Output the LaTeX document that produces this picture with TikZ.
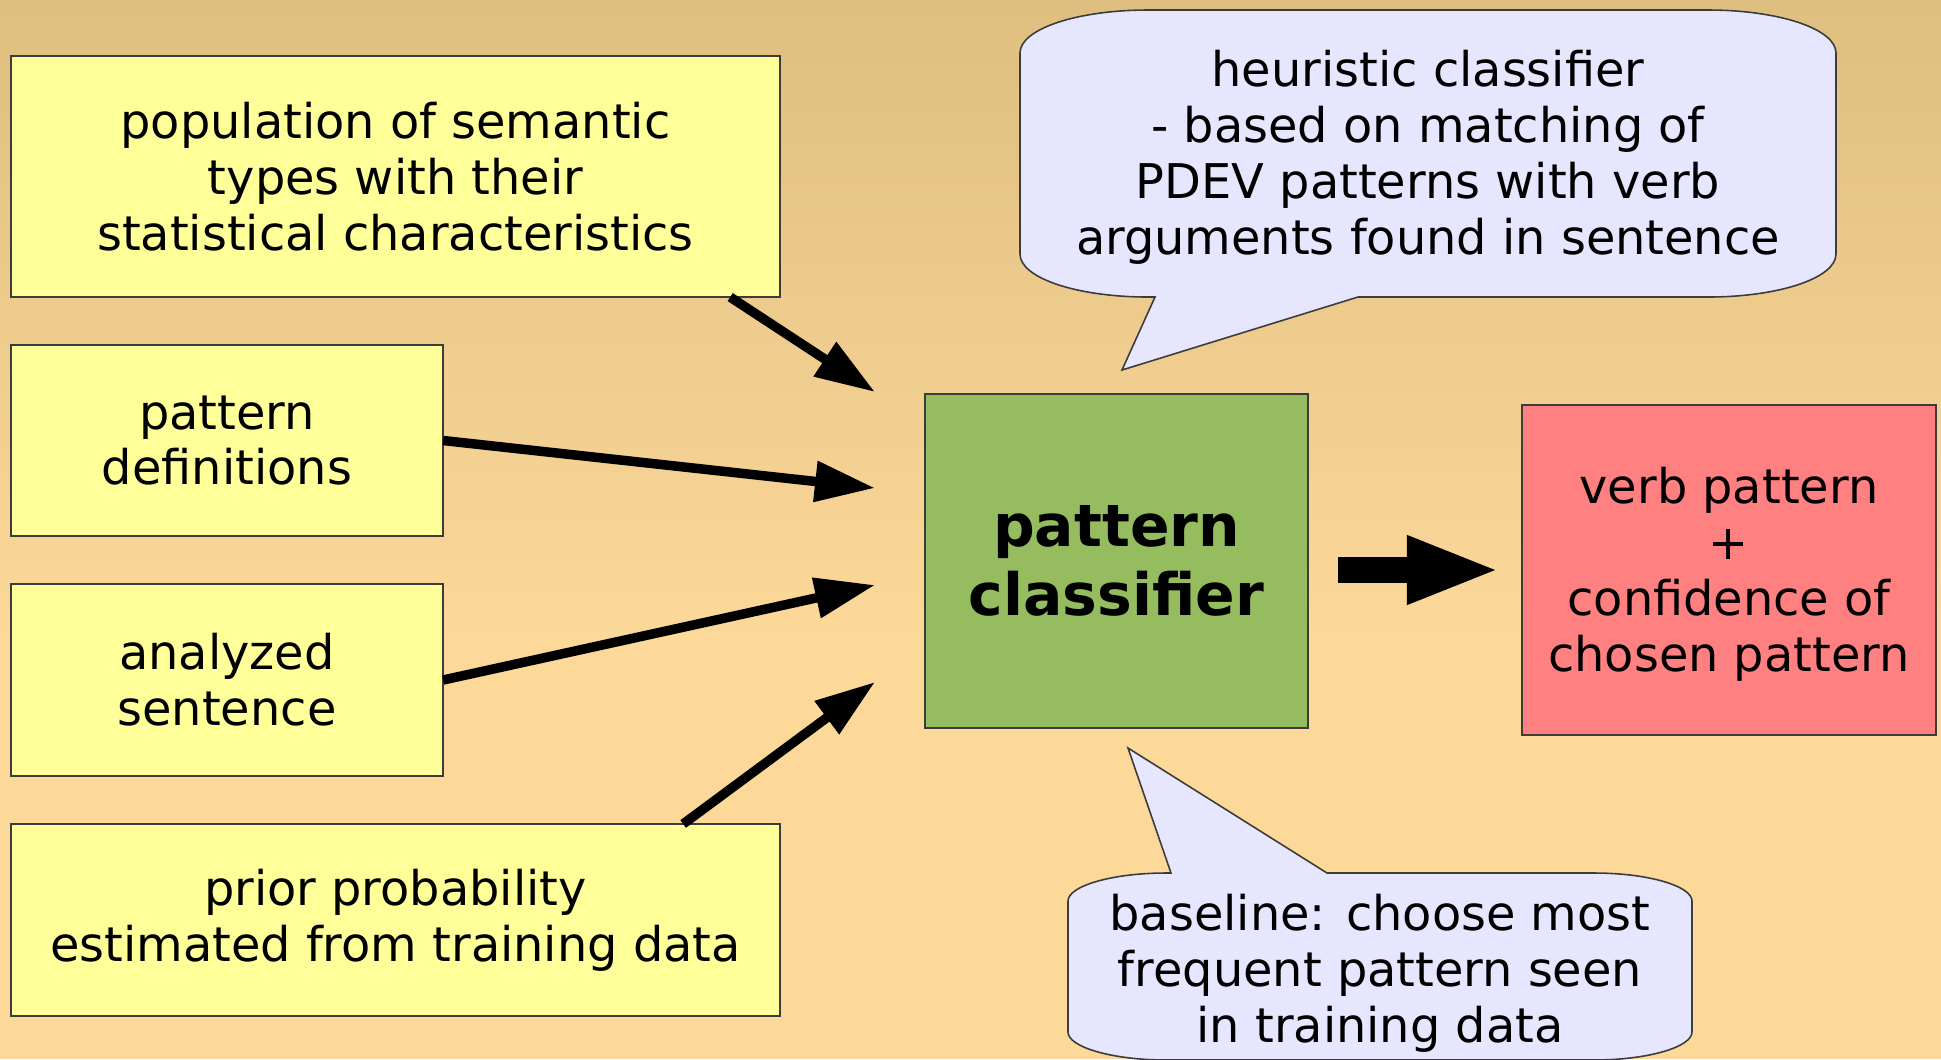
\documentclass[tikz,border=0pt]{standalone}
\usepackage{fontspec}
\setmainfont{DejaVu Sans}
\usetikzlibrary{arrows.meta}

\definecolor{bgtop}{RGB}{222,191,128}
\definecolor{bgbot}{RGB}{252,216,153}
\definecolor{inyellow}{RGB}{255,255,153}
\definecolor{clsgreen}{RGB}{149,189,95}
\definecolor{resred}{RGB}{255,128,128}
\definecolor{notelilac}{RGB}{230,230,255}
\definecolor{edgegray}{RGB}{60,60,60}

\tikzset{
  txt/.style={font=\fontsize{13.6}{15.9}\selectfont, align=center},
  inbox/.style={txt, draw=edgegray, line width=0.45pt, fill=inyellow, inner sep=0pt, outer sep=0pt},
  feed/.style={line width=2.7pt, -{Triangle[length=0.6cm,width=0.39cm]}},
  bigarrow/.style={line width=0.26cm, -{Triangle[length=0.94cm,width=0.62cm]}},
  note/.style={draw=edgegray, line width=0.45pt, fill=notelilac}
}

\begin{document}
\begin{tikzpicture}[x=0.01cm,y=-0.01cm]
\useasboundingbox (0,0) rectangle (1941,1059);
%background
\shade[top color=bgtop, bottom color=bgbot] (0,0) rectangle (1941,640);
\fill[bgbot] (0,639) rectangle (1941,1059);

%inputs
\node[inbox, minimum width=7.69cm, minimum height=2.41cm] (pop) at (395.5,176.5)
  {population of semantic\\types with their\\statistical characteristics};
\node[inbox, minimum width=4.32cm, minimum height=1.91cm] (def) at (227,440.5)
  {pattern\\definitions};
\node[inbox, minimum width=4.32cm, minimum height=1.92cm] (sent) at (227,680)
  {analyzed\\sentence};
\node[inbox, minimum width=7.69cm, minimum height=1.92cm] (prior) at (395.5,920)
  {prior probability\\estimated from training data};

%classifier and result
\node[draw=edgegray, line width=0.45pt, fill=clsgreen, minimum width=3.83cm, minimum height=3.34cm,
  inner sep=0pt, outer sep=0pt, align=center, font=\fontsize{16.6}{19.4}\selectfont\bfseries] (cls) at (1116.5,561)
  {pattern\\classifier};
\node[draw=edgegray, line width=0.45pt, fill=resred, minimum width=4.14cm, minimum height=3.30cm,
  outer sep=0pt] (res) at (1729,570) {};
\node[txt] (restxt) at (1729,574) {verb pattern\\+\\confidence of\\chosen pattern};

%arrow ends in front of the classifier
\coordinate (t1) at (875,392);
\coordinate (t2) at (875,488);
\coordinate (t3) at (875,585);
\coordinate (t4) at (875,682);

\draw[feed] ([xshift=-0.5cm]pop.south east) -- (t1);
\draw[feed] (def.east) -- (t2);
\draw[feed] (sent.east) -- (t3);
\draw[feed] ([xshift=-0.97cm]prior.north east) -- (t4);
\draw[bigarrow] ([xshift=0.3cm]cls.east |- res.west) -- ([xshift=-0.21cm]res.west);

%callouts
\draw[note] (1148,10) -- (1708,10) .. controls (1779,10) and (1836,29) .. (1836,53)
  -- (1836,254) .. controls (1836,278) and (1779,297) .. (1708,297)
  -- (1358,297) -- (1122,370) -- (1155,297) -- (1148,297)
  .. controls (1077,297) and (1020,278) .. (1020,254)
  -- (1020,53) .. controls (1020,29) and (1077,10) .. (1148,10) -- cycle;
\node[txt] (heur) at (1428,157)
  {heuristic classifier\\- based on matching of\\PDEV patterns with verb\\arguments found in sentence};

\draw[note] (1166,873) -- (1171,873) -- (1128,748) -- (1327,873) -- (1594,873)
  .. controls (1648,873) and (1692,886) .. (1692,901)
  -- (1692,1032) .. controls (1692,1047) and (1648,1060) .. (1594,1060)
  -- (1166,1060) .. controls (1112,1060) and (1068,1047) .. (1068,1032)
  -- (1068,901) .. controls (1068,886) and (1112,873) .. (1166,873) -- cycle;
\node[txt] (base) at (1380,973)
  {baseline: choose most\\frequent pattern seen\\in training data};

\end{tikzpicture}
\end{document}
